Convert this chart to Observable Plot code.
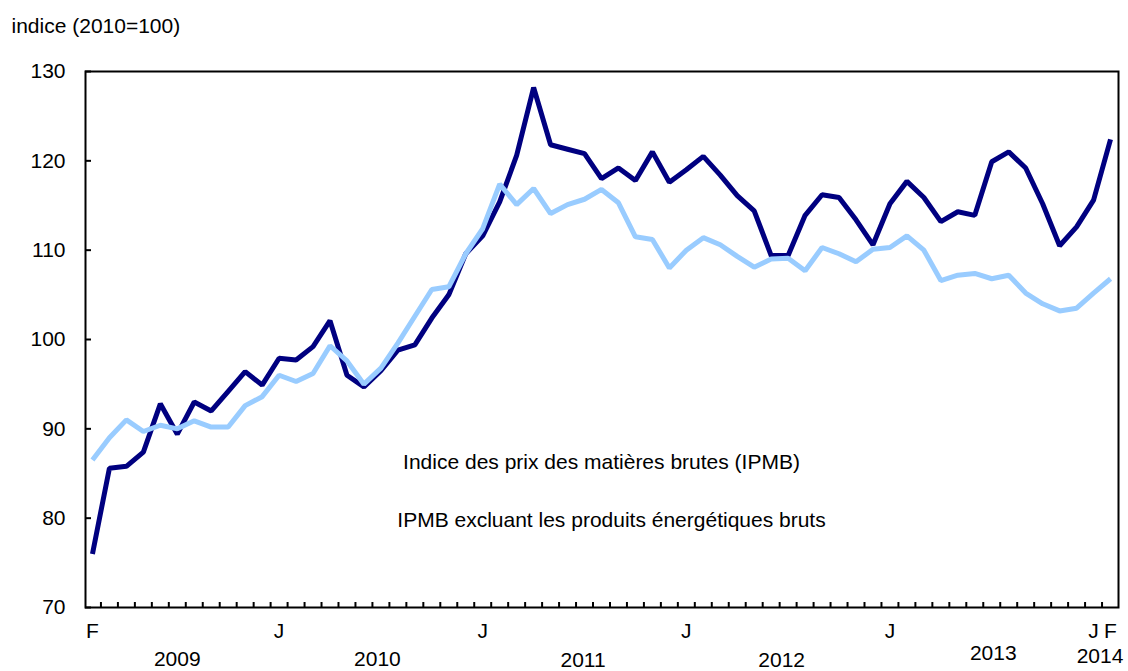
<!DOCTYPE html>
<html>
<head>
<meta charset="utf-8">
<script src="https://cdn.jsdelivr.net/npm/d3@7"></script>
<script src="https://cdn.jsdelivr.net/npm/@observablehq/plot@0.6"></script>
<style>
  html, body { margin: 0; padding: 0; background: #fff; }
  #chart svg { display: block; }
</style>
</head>
<body>
<div id="chart"></div>
<script>
// ---- Data (Feb 2009 .. Feb 2014, monthly, 2010 = 100) ----
const firstMonth = new Date(Date.UTC(2009, 1, 1));
const lastMonth = new Date(Date.UTC(2014, 1, 1));

const ipmb = [
  76.0, 85.6, 85.8, 87.4, 92.8, 89.4, 93.0, 92.0, 94.2, 96.4,
  94.9, 97.9, 97.7, 99.2, 102.1, 96.0, 94.7, 96.5, 98.8, 99.4,
  102.4, 105.0, 109.6, 111.6, 115.4, 120.6, 128.2, 121.8, 121.3, 120.8,
  118.0, 119.2, 117.8, 121.0, 117.6, 119.0, 120.5, 118.4, 116.1, 114.4,
  109.4, 109.4, 113.9, 116.2, 115.9, 113.4, 110.6, 115.2, 117.7, 115.9,
  113.2, 114.3, 113.9, 119.9, 121.0, 119.2, 115.2, 110.5, 112.6, 115.6,
  122.4
];

const ipmbExEnergy = [
  86.5, 89.0, 91.0, 89.7, 90.4, 90.0, 90.9, 90.2, 90.2, 92.6,
  93.6, 96.0, 95.3, 96.2, 99.3, 97.6, 95.0, 96.8, 99.6, 102.6,
  105.6, 105.9, 109.6, 112.4, 117.4, 115.1, 116.9, 114.1, 115.1, 115.7,
  116.8, 115.3, 111.5, 111.2, 108.0, 110.0, 111.4, 110.6, 109.3, 108.1,
  109.0, 109.1, 107.7, 110.3, 109.6, 108.7, 110.1, 110.3, 111.6, 110.0,
  106.6, 107.2, 107.4, 106.8, 107.2, 105.2, 104.0, 103.2, 103.5, 105.2,
  106.8
];

const seriesNames = [
  "Indice des prix des matières brutes (IPMB)",
  "IPMB excluant les produits énergétiques bruts"
];
const seriesColors = ["#000080", "#99ccff"];

const yTicks = [70, 80, 90, 100, 110, 120, 130];
const monthLetters = ["J", "F", "M", "A", "M", "J", "J", "A", "S", "O", "N", "D"];
const years = [2009, 2010, 2011, 2012, 2013, 2014];
const yAxisTitle = "indice (2010=100)";

// ---- Build tables ----
const months = d3.utcMonth.range(firstMonth, d3.utcMonth.offset(lastMonth, 1));
const rows = [];
[ipmb, ipmbExEnergy].forEach((vals, s) => {
  vals.forEach((v, i) => rows.push({ i, date: months[i], value: v, series: seriesNames[s] }));
});

// labelled month ticks: first, every January, last
const labelIdx = months
  .map((d, i) => i)
  .filter(i => i === 0 || i === months.length - 1 || months[i].getUTCMonth() === 0);
const monthLabel = i => monthLetters[months[Math.round(i)].getUTCMonth()];

// year label at centre of its months
const yearRows = years.map(y => {
  const idx = months.map((d, i) => i).filter(i => months[i].getUTCFullYear() === y);
  return { year: String(y), pos: d3.mean(idx) };
});
// small per-label offsets as in the original layout
const yearOffset = {
  "2009": [0, 44], "2010": [5, 44], "2011": [7, 45],
  "2012": [2, 45], "2013": [10, 38], "2014": [-2, 41]
};

const font = "'Liberation Sans', Arial, Helvetica, sans-serif";
const fs = 21;

const chart = Plot.plot({
  width: 1128,
  height: 671,
  marginLeft: 85,
  marginRight: 10,
  marginTop: 71,
  marginBottom: 64,
  style: { fontFamily: font, fontSize: fs + "px", color: "black", background: "white" },
  x: { type: "linear", domain: [-0.41, 60.47] },
  y: { domain: [70, 130] },
  color: { domain: seriesNames, range: seriesColors },
  marks: [
    Plot.axisY({ ticks: yTicks, tickSize: 0, tickPadding: 20, label: null, fontSize: fs }),
    Plot.axisY({ ticks: yTicks, tickSize: -6, tickFormat: () => "", label: null, strokeWidth: 2 }),
    Plot.axisX({ ticks: d3.range(0, 60).map(i => i + 0.5), tickSize: -5, tickFormat: () => "", label: null, strokeWidth: 2 }),
    Plot.axisX({ ticks: labelIdx, tickFormat: monthLabel, tickSize: 0, tickPadding: 16, label: null, fontSize: fs }),
    ...yearRows.map(r => Plot.text([r], {
      x: "pos", text: "year", frameAnchor: "bottom", lineAnchor: "top",
      dx: yearOffset[r.year][0], dy: yearOffset[r.year][1], fontSize: fs, fill: "black"
    })),
    Plot.line(rows, {
      x: "i", y: "value", z: "series", stroke: "series",
      strokeWidth: 5, strokeLinejoin: "miter", strokeLinecap: "butt"
    }),
    Plot.frame({ stroke: "black", strokeWidth: 2 }),
    Plot.text([seriesNames[0]], { frameAnchor: "top-left", dx: 516, dy: 383, textAnchor: "middle", fontSize: fs, fill: "black" }),
    Plot.text([seriesNames[1]], { frameAnchor: "top-left", dx: 526, dy: 441, textAnchor: "middle", fontSize: fs, fill: "black" }),
    Plot.text([yAxisTitle], { frameAnchor: "top-left", dx: -74, dy: -53, textAnchor: "start", fontSize: fs, fill: "black" })
  ]
});

document.getElementById("chart").appendChild(chart);
</script>
</body>
</html>
